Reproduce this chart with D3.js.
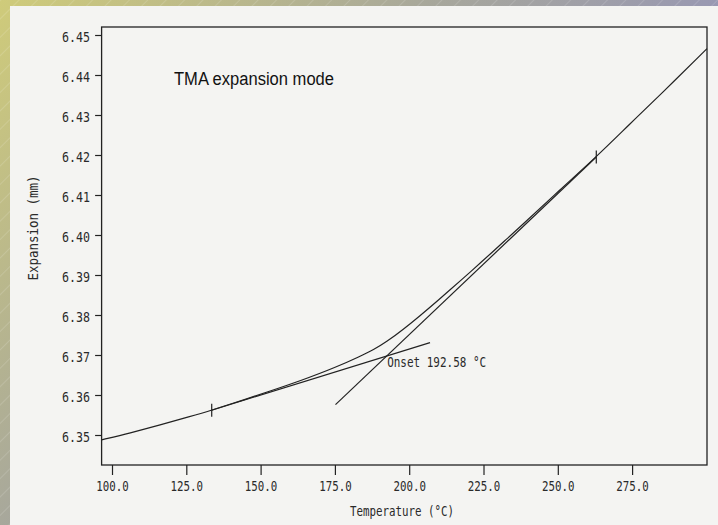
<!DOCTYPE html>
<html>
<head>
<meta charset="utf-8">
<script src="https://cdn.jsdelivr.net/npm/d3@7"></script>
<style>
html, body { margin: 0; padding: 0; overflow: hidden; background: #a9a98f; }
</style>
</head>
<body>
<div id="chart"></div>
<script>
// measured TMA curve, temperature (°C) vs expansion (mm)
const temps = [96.5, 106.1, 116.2, 126.2, 133.55, 143.1, 152.1, 163.3, 175.6, 183.5, 188.0, 192.4, 198.0, 203.6, 209.3, 218.2, 223.8, 232.8, 237.3, 250.7, 262.95, 274.3, 284.4, 300.2];
const expansion = [6.3488, 6.3505, 6.3525, 6.3546, 6.3562, 6.3585, 6.3607, 6.3635, 6.3670, 6.3697, 6.3713, 6.3733, 6.3764, 6.3798, 6.3834, 6.3892, 6.3929, 6.3990, 6.4020, 6.4113, 6.4195, 6.4278, 6.4350, 6.4466];

// tangent lines used for the onset
const lowerTangentT = [133.55, 207.0];
const lowerTangentE = [6.3562, 6.3731];
const upperTangentT = [175.2, 262.95];
const upperTangentE = [6.3576, 6.4195];

// cursor marks on the curve
const markerT = [133.55, 262.95];
const markerE = [6.3562, 6.4195];

const onsetT = 192.58;
const onsetE = 6.36975;

const xTicks = [100, 125, 150, 175, 200, 225, 250, 275];
const yTicks = [6.35, 6.36, 6.37, 6.38, 6.39, 6.40, 6.41, 6.42, 6.43, 6.44, 6.45];

const W = 718, H = 525;
const margin = {top: 27, right: 11, bottom: 60, left: 101.6};
const ink = '#222';
const mono = '"DejaVu Sans Mono", "Liberation Mono", monospace';

const svg = d3.select('#chart').append('svg')
	.attr('width', W)
	.attr('height', H);

// slide background: diagonal gradient with light hatching
const defs = svg.append('defs');
const grad = defs.append('linearGradient')
	.attr('id', 'bg')
	.attr('x1', 0).attr('y1', 0).attr('x2', 1).attr('y2', 0.6);
grad.append('stop').attr('offset', 0).attr('stop-color', '#cfcb7a');
grad.append('stop').attr('offset', 0.45).attr('stop-color', '#a7a79c');
grad.append('stop').attr('offset', 1).attr('stop-color', '#8b8bc6');

const hatch = defs.append('pattern')
	.attr('id', 'hatch')
	.attr('width', 13).attr('height', 13)
	.attr('patternUnits', 'userSpaceOnUse')
	.attr('patternTransform', 'rotate(45)');
hatch.append('line')
	.attr('x1', 0).attr('y1', 0).attr('x2', 0).attr('y2', 13)
	.attr('stroke', 'rgba(255,255,255,0.28)')
	.attr('stroke-width', 1);

svg.append('rect').attr('width', W).attr('height', H).attr('fill', 'url(#bg)');
svg.append('rect').attr('width', W).attr('height', H).attr('fill', 'url(#hatch)');

// the scanned paper
svg.append('rect')
	.attr('x', 10).attr('y', 6)
	.attr('width', W - 10).attr('height', H - 6)
	.attr('fill', '#f4f4f2');

const x = d3.scaleLinear()
	.domain([96.5, 300.2])
	.range([margin.left, W - margin.right]);

const y = d3.scaleLinear()
	.domain([6.3425, 6.452])
	.range([H - margin.bottom, margin.top]);

// frame
svg.append('rect')
	.attr('x', x.range()[0])
	.attr('y', y.range()[1])
	.attr('width', x.range()[1] - x.range()[0])
	.attr('height', y.range()[0] - y.range()[1])
	.attr('fill', 'none')
	.attr('stroke', ink)
	.attr('stroke-width', 1.3);

const xAxis = g => g
	.attr('transform', `translate(0,${ y.range()[0] })`)
	.call(d3.axisBottom(x).tickValues(xTicks).tickFormat(d3.format('.1f')).tickSize(10).tickPadding(6))
	.call(g => g.select('.domain').remove())
	.call(g => g.selectAll('line').attr('stroke', ink).attr('stroke-width', 1.2))
	.call(g => g.selectAll('text')
		.attr('fill', '#2a2a2a')
		.attr('font-family', mono)
		.attr('font-size', 14)
		.attr('textLength', 32.5)
		.attr('lengthAdjust', 'spacingAndGlyphs'));

const yAxis = g => g
	.attr('transform', `translate(${ x.range()[0] },0)`)
	.call(d3.axisLeft(y).tickValues(yTicks).tickFormat(d3.format('.2f')).tickSize(6.5).tickPadding(5))
	.call(g => g.select('.domain').remove())
	.call(g => g.selectAll('line').attr('stroke', ink).attr('stroke-width', 1.2))
	.call(g => g.selectAll('text')
		.attr('fill', '#2a2a2a')
		.attr('font-family', mono)
		.attr('font-size', 14)
		.attr('dy', '0.45em')
		.attr('textLength', 28)
		.attr('lengthAdjust', 'spacingAndGlyphs'));

svg.append('g').call(xAxis);
svg.append('g').call(yAxis);

// axis titles
svg.append('text')
	.attr('x', 402)
	.attr('y', 516)
	.attr('text-anchor', 'middle')
	.attr('font-family', mono)
	.attr('font-size', 14)
	.attr('fill', '#2a2a2a')
	.attr('textLength', 104)
	.attr('lengthAdjust', 'spacingAndGlyphs')
	.text('Temperature (°C)');

svg.append('text')
	.attr('transform', 'translate(38,228) rotate(-90)')
	.attr('text-anchor', 'middle')
	.attr('font-family', mono)
	.attr('font-size', 14)
	.attr('fill', '#2a2a2a')
	.attr('textLength', 105)
	.attr('lengthAdjust', 'spacingAndGlyphs')
	.text('Expansion (mm)');

svg.append('text')
	.attr('x', 174)
	.attr('y', 85)
	.attr('font-family', '"Liberation Sans", Arial, sans-serif')
	.attr('font-size', 18)
	.attr('fill', '#111')
	.attr('textLength', 160)
	.attr('lengthAdjust', 'spacingAndGlyphs')
	.text('TMA expansion mode');

const line = d3.line()
	.x(d => x(d[ 0 ]))
	.y(d => y(d[ 1 ]));

const plot = svg.append('g')
	.attr('fill', 'none')
	.attr('stroke', ink)
	.attr('stroke-width', 1.2);

plot.append('path')
	.attr('d', d3.line().x(d => x(d[ 0 ])).y(d => y(d[ 1 ])).curve(d3.curveBasis)(temps.map((t, i) => [ t, expansion[ i ] ])));

plot.append('path')
	.attr('d', line(lowerTangentT.map((t, i) => [ t, lowerTangentE[ i ] ])));

plot.append('path')
	.attr('d', line(upperTangentT.map((t, i) => [ t, upperTangentE[ i ] ])));

plot.selectAll('line.marker')
	.data(markerT)
	.enter().append('line')
	.attr('class', 'marker')
	.attr('x1', d => x(d))
	.attr('x2', d => x(d))
	.attr('y1', (d, i) => y(markerE[ i ]) - 6.5)
	.attr('y2', (d, i) => y(markerE[ i ]) + 6.5);

svg.append('text')
	.attr('x', x(onsetT))
	.attr('y', y(onsetE) + 11)
	.attr('font-family', mono)
	.attr('font-size', 14)
	.attr('fill', '#2a2a2a')
	.attr('textLength', 99)
	.attr('lengthAdjust', 'spacingAndGlyphs')
	.text(`Onset ${ onsetT } °C`);
</script>
</body>
</html>
